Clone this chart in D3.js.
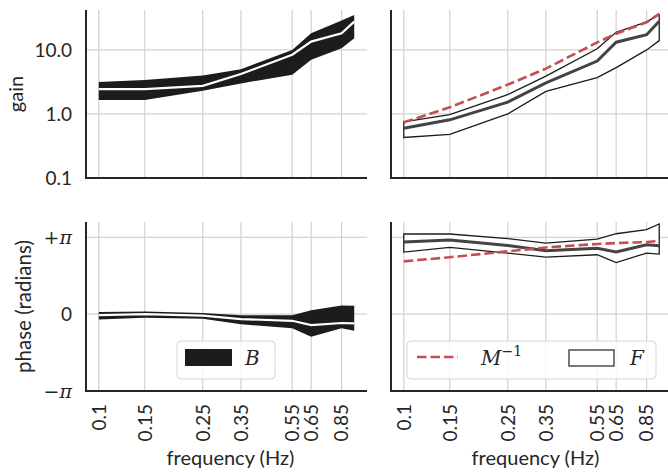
<!DOCTYPE html>
<html>
<head>
<meta charset="utf-8">
<script src="https://cdn.jsdelivr.net/npm/d3@7"></script>
<style>
body { margin: 0; background: #fff; }
text { font-family: Lato, "DejaVu Sans", sans-serif; fill: #262626; }
.math { font-family: "DejaVu Serif", "Liberation Serif", serif; font-style: italic; }
</style>
</head>
<body>
<svg id="chart" width="668" height="472"></svg>
<script>
// sampled frequencies (Hz) and the labelled ticks
var freqs = [0.1, 0.15, 0.25, 0.35, 0.55, 0.65, 0.85, 0.95];
var freqTicks = [0.1, 0.15, 0.25, 0.35, 0.55, 0.65, 0.85];
var freqTickLabels = ["0.1", "0.15", "0.25", "0.35", "0.55", "0.65", "0.85"];

// gain of B (band low / median / high)
var gainBLow = [1.65, 1.65, 2.3, 3.0, 4.1, 7.0, 10.6, 15.2];
var gainBMid = [2.45, 2.45, 2.75, 4.2, 8.4, 13.5, 18.2, 27.6];
var gainBHigh = [3.15, 3.4, 4.0, 5.0, 10.0, 18.2, 28.7, 35.0];

// gain of F and of M^-1
var gainFLow = [0.43, 0.48, 1.0, 2.25, 3.7, 5.3, 10.0, 14.0];
var gainFMid = [0.60, 0.81, 1.53, 3.05, 6.7, 13.2, 17.3, 28.0];
var gainFHigh = [0.75, 0.98, 2.0, 3.9, 10.4, 18.8, 27.4, 35.6];
var gainMinv = [0.74, 1.27, 2.87, 5.1, 13.1, 17.9, 27.0, 36.6];

// phase in radians
var phaseBLow = [-0.22, -0.15, -0.19, -0.41, -0.58, -0.92, -0.58, -0.68];
var phaseBMid = [-0.04, 0.0, -0.06, -0.20, -0.27, -0.45, -0.36, -0.38];
var phaseBHigh = [0.09, 0.11, 0.05, -0.04, -0.04, 0.16, 0.36, 0.34];
var phaseFLow = [2.54, 2.73, 2.50, 2.33, 2.43, 2.11, 2.50, 2.46];
var phaseFMid = [2.95, 3.03, 2.81, 2.59, 2.70, 2.54, 2.84, 2.80];
var phaseFHigh = [3.28, 3.28, 3.09, 2.91, 3.07, 3.29, 3.46, 3.69];
var phaseMinv = [2.16, 2.33, 2.57, 2.73, 2.87, 2.91, 2.95, 3.00];

var gainTicks = [0.1, 1, 10];
var gainTickLabels = ["0.1", "1.0", "10.0"];

var PI = Math.PI;
var svg = d3.select("#chart");
var dark = "#1c1c1c", red = "#c44e52", grid = "#d2d2d2";

// panel boxes
var cols = [{x0: 86, x1: 367}, {x0: 391, x1: 672}];
var rows = [{y0: 10, y1: 178}, {y0: 222, y1: 391}];

// x domain with 5% padding in log space
var lo = Math.log10(freqs[0]), hi = Math.log10(freqs[freqs.length - 1]);
var pad = (hi - lo) * 0.05;
var xDomain = [Math.pow(10, lo - pad), Math.pow(10, hi + pad)];

function makePanel(col, row, yScale, yGrid) {
    var x = d3.scaleLog().domain(xDomain).range([col.x0, col.x1]);
    var y = yScale.range([row.y1, row.y0]);
    var g = svg.append("g");
    var clip = "clip" + col.x0 + "_" + row.y0;
    svg.append("clipPath").attr("id", clip)
        .append("rect").attr("x", col.x0).attr("y", row.y0)
        .attr("width", col.x1 - col.x0).attr("height", row.y1 - row.y0);
    g.selectAll(".vg").data(freqTicks).enter().append("line")
        .attr("x1", function(d) { return x(d); }).attr("x2", function(d) { return x(d); })
        .attr("y1", row.y0).attr("y2", row.y1)
        .attr("stroke", grid).attr("stroke-width", 1.2);
    g.selectAll(".hg").data(yGrid).enter().append("line")
        .attr("x1", col.x0).attr("x2", col.x1)
        .attr("y1", function(d) { return y(d); }).attr("y2", function(d) { return y(d); })
        .attr("stroke", grid).attr("stroke-width", 1.2);
    var marks = svg.append("g").attr("clip-path", "url(#" + clip + ")");
    return {x: x, y: y, g: g, marks: marks, col: col, row: row};
}

function spines(p) {
    svg.append("line").attr("x1", p.col.x0).attr("x2", p.col.x0)
        .attr("y1", p.row.y0).attr("y2", p.row.y1 + 1)
        .attr("stroke", "#262626").attr("stroke-width", 2);
    svg.append("line").attr("x1", p.col.x0 - 1).attr("x2", p.col.x1)
        .attr("y1", p.row.y1).attr("y2", p.row.y1)
        .attr("stroke", "#262626").attr("stroke-width", 2);
}

function band(p, low, high, fill, stroke) {
    var area = d3.area()
        .x(function(d, i) { return p.x(freqs[i]); })
        .y0(function(d, i) { return p.y(low[i]); })
        .y1(function(d, i) { return p.y(high[i]); });
    p.marks.append("path").datum(freqs).attr("d", area)
        .attr("fill", fill)
        .attr("stroke", stroke || "none").attr("stroke-width", 1.3)
        .attr("stroke-linejoin", "miter");
}

function line(p, vals, color, width, dash) {
    var ln = d3.line()
        .x(function(d, i) { return p.x(freqs[i]); })
        .y(function(d) { return p.y(d); });
    p.marks.append("path").datum(vals).attr("d", ln)
        .attr("fill", "none").attr("stroke", color).attr("stroke-width", width)
        .attr("stroke-dasharray", dash || null);
}

// gain panels
var gainDom = [0.1, 42];
var pTL = makePanel(cols[0], rows[0], d3.scaleLog().domain(gainDom), [1, 10]);
var pTR = makePanel(cols[1], rows[0], d3.scaleLog().domain(gainDom), [1, 10]);
// phase panels
var phaseDom = [-PI, 1.2 * PI];
var pBL = makePanel(cols[0], rows[1], d3.scaleLinear().domain(phaseDom), [0, PI]);
var pBR = makePanel(cols[1], rows[1], d3.scaleLinear().domain(phaseDom), [0, PI]);

band(pTL, gainBLow, gainBHigh, dark);
line(pTL, gainBMid, "#fff", 2.2);
band(pTR, gainFLow, gainFHigh, "#fff", dark);
line(pTR, gainFMid, "#444", 3);
line(pTR, gainMinv, red, 2.6, "9.5,4");

band(pBL, phaseBLow, phaseBHigh, dark);
line(pBL, phaseBMid, "#fff", 2.2);
band(pBR, phaseFLow, phaseFHigh, "#fff", dark);
line(pBR, phaseFMid, "#444", 3);
line(pBR, phaseMinv, red, 2.6, "9.5,4");

[pTL, pTR, pBL, pBR].forEach(spines);

// y tick labels
svg.selectAll(".gtick").data(gainTicks).enter().append("text")
    .attr("x", 72).attr("y", function(d) { return pTL.y(d); })
    .attr("dy", "0.36em").attr("text-anchor", "end")
    .attr("font-size", 19)
    .text(function(d, i) { return gainTickLabels[i]; });

var phaseTicks = [
    {v: PI, sign: "+", sym: "π"},
    {v: 0, sign: "", sym: "0"},
    {v: -PI, sign: "−", sym: "π"}
];
phaseTicks.forEach(function(t) {
    var tx = svg.append("text")
        .attr("x", 72).attr("y", pBL.y(t.v))
        .attr("dy", "0.36em").attr("text-anchor", "end")
        .attr("font-size", 19);
    if (t.sign) {
        tx.append("tspan").attr("font-family", "DejaVu Serif, serif").text(t.sign);
        tx.append("tspan").attr("class", "math").text(t.sym);
    } else {
        tx.text(t.sym);
    }
});

// x tick labels under both bottom panels
[pBL, pBR].forEach(function(p) {
    svg.append("g").selectAll("text").data(freqTicks).enter().append("text")
        .attr("transform", function(d) { return "translate(" + p.x(d) + ",404) rotate(-90)"; })
        .attr("dy", "0.36em").attr("text-anchor", "end")
        .attr("font-size", 19)
        .text(function(d, i) { return freqTickLabels[i]; });
    svg.append("text")
        .attr("x", (p.col.x0 + p.col.x1) / 2 + 4).attr("y", 465)
        .attr("text-anchor", "middle").attr("font-size", 20)
        .text("frequency (Hz)");
});

// y axis labels
svg.append("text")
    .attr("transform", "translate(23," + (rows[0].y0 + rows[0].y1) / 2 + ") rotate(-90)")
    .attr("text-anchor", "middle").attr("font-size", 20).text("gain");
svg.append("text")
    .attr("transform", "translate(31," + (rows[1].y0 + rows[1].y1) / 2 + ") rotate(-90)")
    .attr("text-anchor", "middle").attr("font-size", 20.5).text("phase (radians)");

// legend for B
var lgB = svg.append("g");
lgB.append("rect").attr("x", 177).attr("y", 341).attr("width", 98).attr("height", 38)
    .attr("rx", 4).attr("fill", "#fff").attr("fill-opacity", 0.8)
    .attr("stroke", "#d6d6d6").attr("stroke-width", 1);
lgB.append("rect").attr("x", 185).attr("y", 349).attr("width", 47).attr("height", 17)
    .attr("fill", dark);
lgB.append("text").attr("class", "math").attr("x", 245).attr("y", 365)
    .attr("font-size", 20).text("B");

// legend for M^-1 and F
var lgF = svg.append("g");
lgF.append("rect").attr("x", 407).attr("y", 341).attr("width", 249).attr("height", 38)
    .attr("rx", 4).attr("fill", "#fff").attr("fill-opacity", 0.8)
    .attr("stroke", "#d6d6d6").attr("stroke-width", 1);
lgF.append("line").attr("x1", 417).attr("x2", 458).attr("y1", 357).attr("y2", 357)
    .attr("stroke", red).attr("stroke-width", 2.6).attr("stroke-dasharray", "9.5,4");
var mt = lgF.append("text").attr("x", 481).attr("y", 365).attr("font-size", 20);
mt.append("tspan").attr("class", "math").text("M");
mt.append("tspan").attr("dy", -9).attr("font-size", 14)
    .attr("font-family", "DejaVu Serif, serif").text("−1");
lgF.append("rect").attr("x", 569).attr("y", 350).attr("width", 45).attr("height", 16)
    .attr("fill", "#fff").attr("stroke", "#333").attr("stroke-width", 1.3);
lgF.append("text").attr("class", "math").attr("x", 630).attr("y", 365)
    .attr("font-size", 20).text("F");
</script>
</body>
</html>
